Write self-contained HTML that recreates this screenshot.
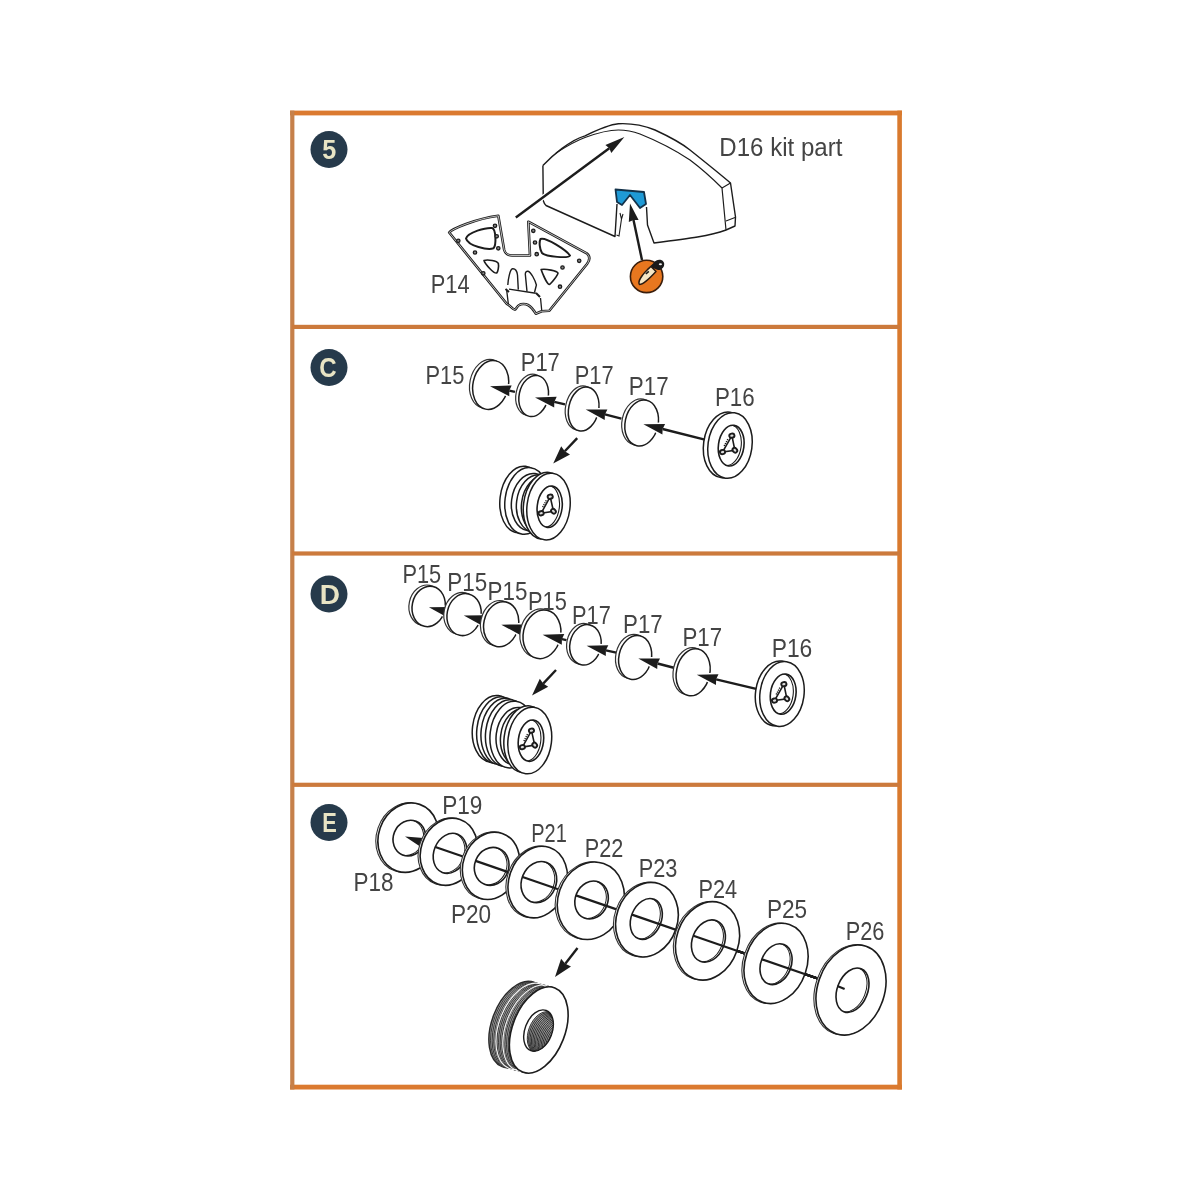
<!DOCTYPE html><html><head><meta charset="utf-8"><style>html,body{margin:0;padding:0;background:#fff;}svg{display:block;will-change:transform;font-family:"Liberation Sans",sans-serif;}</style></head><body>
<svg width="1200" height="1200" viewBox="0 0 1200 1200">
<rect width="1200" height="1200" fill="#fff"/>
<rect x="290" y="110.6" width="612" height="4.8" fill="#db7a30"/>
<rect x="290" y="1084.7" width="612" height="4.8" fill="#db7a30"/>
<rect x="897.3" y="110.6" width="4.6" height="978.9" fill="#d97a2e"/>
<rect x="290.2" y="110.6" width="4.2" height="978.9" fill="#c6804a"/>
<rect x="292" y="324.79999999999995" width="608" height="4.2" fill="#cc7a3c"/>
<rect x="292" y="551.4" width="608" height="4.2" fill="#cc7a3c"/>
<rect x="292" y="782.6999999999999" width="608" height="4.2" fill="#cc7a3c"/>
<circle cx="329" cy="149.5" r="18.5" fill="#263a4b"/>
<text x="0" y="0" font-size="28" font-weight="bold" fill="#e8e4c4" text-anchor="middle" transform="translate(329.3 159.2) scale(0.9 1)">5</text>
<circle cx="329" cy="367.5" r="18.5" fill="#263a4b"/>
<text x="0" y="0" font-size="28" font-weight="bold" fill="#e8e4c4" text-anchor="middle" transform="translate(328 377.2) scale(0.86 1)">C</text>
<circle cx="329" cy="594" r="18.5" fill="#263a4b"/>
<text x="0" y="0" font-size="28" font-weight="bold" fill="#e8e4c4" text-anchor="middle" transform="translate(329.8 603.7) scale(1.0 1)">D</text>
<circle cx="329" cy="822.5" r="18.5" fill="#263a4b"/>
<text x="0" y="0" font-size="28" font-weight="bold" fill="#e8e4c4" text-anchor="middle" transform="translate(329.5 832.2) scale(0.78 1)">E</text>
<path d="M542.9,165.4 C552,156 570,140 585,135.8 C597,130 610,124.5 618.3,123.75 C632,123 645,126 655,130 C668,136 680,142 690,150 C705,162 720,174 730.5,183 L735.5,217 L735,226 L726,230 C710,236 690,238.5 654,243 L647.5,225 L646.5,207" fill="none" stroke="#1c1c1c" stroke-width="1.4" stroke-linejoin="round"/>
<path d="M556,153 C570,144 578,140 585,137.5 C600,132 610,130 618.3,130 C625,130 632,131 640,134 C660,142 675,150 690,160 C702,169 712,178 722,188 L726,230" fill="none" stroke="#1c1c1c" stroke-width="1.2"/>
<path d="M722,188 L730.5,183 M726,221 L735,217.5" fill="none" stroke="#1c1c1c" stroke-width="1.1"/>
<path d="M542.9,165.4 L543.3,200.8 C544,203 544.5,204.5 546,205.5 L615,236.5 L617,204" fill="none" stroke="#1c1c1c" stroke-width="1.4" stroke-linejoin="round"/>
<path d="M620,213 L621.5,219 L619,236 L616.5,235 M621.5,219 L623,214" fill="none" stroke="#1c1c1c" stroke-width="1.1"/>
<path d="M615.5,189.5 L644,192 L646,204 L640,208 L630,195 L622,205 L617,202 Z" fill="#1f9ad6" stroke="#13324a" stroke-width="1.8" stroke-linejoin="round"/>
<line x1="515.8" y1="217.5" x2="609.3" y2="148.2" stroke="#fff" stroke-width="4.9"/>
<polygon points="624.4,137.0 611.3,152.9 609.3,148.2 605.4,144.9" fill="#fff" stroke="#fff" stroke-width="3" stroke-linejoin="round"/>
<line x1="515.8" y1="217.5" x2="609.3" y2="148.2" stroke="#1c1c1c" stroke-width="2.4"/>
<polygon points="624.4,137.0 611.3,152.9 609.3,148.2 605.4,144.9" fill="#1c1c1c"/>
<line x1="642.0" y1="260.0" x2="633.5" y2="219.9" stroke="#fff" stroke-width="4.9"/>
<polygon points="630.0,203.5 638.6,220.1 633.5,219.9 628.8,222.1" fill="#fff" stroke="#fff" stroke-width="3" stroke-linejoin="round"/>
<line x1="642.0" y1="260.0" x2="633.5" y2="219.9" stroke="#1c1c1c" stroke-width="2.4"/>
<polygon points="630.0,203.5 638.6,220.1 633.5,219.9 628.8,222.1" fill="#1c1c1c"/>
<circle cx="646.6" cy="276.4" r="16.2" fill="#e8771f" stroke="#3a1e0c" stroke-width="1.6"/>
<path d="M649,270.5 L656.5,263.5" stroke="#1a1a1a" stroke-width="4.5" stroke-linecap="round"/>
<ellipse cx="658.8" cy="264.8" rx="5.6" ry="5" transform="rotate(-30 658.8 264.8)" fill="#1a1a1a"/>
<ellipse cx="660.4" cy="264.2" rx="1.6" ry="1" fill="#eee"/>
<path d="M639.5,284.5 C637.5,282 641,275 651,266.5 L656,271.5 C650,278 643,284.5 639.5,284.5 Z" fill="#f6e7c6" stroke="#2a1a10" stroke-width="1.5" stroke-linejoin="round"/>
<path d="M645.8,274 L648.8,271.3" stroke="#1a1a1a" stroke-width="1.6"/>
<text x="719.35" y="156.2" font-size="25" textLength="123" lengthAdjust="spacingAndGlyphs" fill="#444">D16 kit part</text>
<path d="M449.2,232.5 C452,229 475,219 498.3,215.8 L504.2,250 C505,253 508,255.5 512,255.5 L530,255.5 L528.3,221.7 L586.7,253.3 C590,256 590,260 587,264 L549.3,310.75 L541.7,311.3 L535.8,313.7 C533,309 531,306.7 528,305 C525,303.5 521,304 519.5,304.9 C517,306 516,309.6 514.8,309.6 C512,309 510,305 506.7,303.75 Z" fill="#fff" stroke="#1c1c1c" stroke-width="2.6" stroke-linejoin="round"/>
<path d="M449.2,232.5 C452,229 475,219 498.3,215.8 L504.2,250 C505,253 508,255.5 512,255.5 L530,255.5 L528.3,221.7 L586.7,253.3 C590,256 590,260 587,264 L549.3,310.75 L541.7,311.3 L535.8,313.7 C533,309 531,306.7 528,305 C525,303.5 521,304 519.5,304.9 C517,306 516,309.6 514.8,309.6 C512,309 510,305 506.7,303.75 Z" fill="none" stroke="#fff" stroke-width="0.7" stroke-linejoin="round"/>
<path d="M466,238.5 C468,232 486,227.5 492,228 C496,229 496.5,245 493.5,248.3 C488,250.5 468,246 466,238.5 Z" fill="none" stroke="#1c1c1c" stroke-width="2"/>
<path d="M540.5,239 C546,237 566,250 570,255.5 C569,258.5 546,257 542,253 C539.5,249 539,242 540.5,239 Z" fill="none" stroke="#1c1c1c" stroke-width="2"/>
<path d="M484,260.5 C488,259 497,261 498.3,263.3 C499,266 498,272 496.7,273 C494,274 485,264 484,260.5 Z" fill="none" stroke="#1c1c1c" stroke-width="1.6" stroke-linejoin="round"/>
<path d="M541.1,269.5 C546,268.5 557,271 558,273 C558,275 551,284 549.3,284.5 C547,284.5 542,272 541.1,269.5 Z" fill="none" stroke="#1c1c1c" stroke-width="1.6" stroke-linejoin="round"/>
<path d="M507.8,285 C508,280 510,269 512.5,268.75 C515,268.5 517,271 517.5,275 L518.3,289.6" fill="none" stroke="#1c1c1c" stroke-width="1.4"/>
<path d="M527,291.5 L525.3,274 C525.5,272 526.5,271 528,271.2 C531,272 535,280 536.4,285 L534.5,292.5" fill="none" stroke="#1c1c1c" stroke-width="1.4"/>
<path d="M509,289.2 L535.8,293.25 M506.7,290.3 L508.4,304.3 M540.5,298 L541.7,310" fill="none" stroke="#1c1c1c" stroke-width="1.3"/>
<path d="M505.5,289 L509,292 M536,293 L540,297" fill="none" stroke="#1c1c1c" stroke-width="2"/>
<circle cx="458.3" cy="240.8" r="1.7" fill="#888" stroke="#1c1c1c" stroke-width="1.3"/>
<circle cx="495" cy="225.8" r="1.7" fill="#888" stroke="#1c1c1c" stroke-width="1.3"/>
<circle cx="496.7" cy="236.3" r="1.7" fill="#888" stroke="#1c1c1c" stroke-width="1.3"/>
<circle cx="498.3" cy="248.3" r="1.7" fill="#888" stroke="#1c1c1c" stroke-width="1.3"/>
<circle cx="475" cy="252.5" r="1.7" fill="#888" stroke="#1c1c1c" stroke-width="1.3"/>
<circle cx="483.3" cy="273.3" r="1.7" fill="#888" stroke="#1c1c1c" stroke-width="1.3"/>
<circle cx="533.3" cy="230.8" r="1.7" fill="#888" stroke="#1c1c1c" stroke-width="1.3"/>
<circle cx="535" cy="242.5" r="1.7" fill="#888" stroke="#1c1c1c" stroke-width="1.3"/>
<circle cx="536.7" cy="254.2" r="1.7" fill="#888" stroke="#1c1c1c" stroke-width="1.3"/>
<circle cx="579.2" cy="260.8" r="1.7" fill="#888" stroke="#1c1c1c" stroke-width="1.3"/>
<circle cx="562.5" cy="267.5" r="1.7" fill="#888" stroke="#1c1c1c" stroke-width="1.3"/>
<circle cx="560" cy="286.7" r="1.7" fill="#888" stroke="#1c1c1c" stroke-width="1.3"/>
<text x="430.75" y="293.10" font-size="25" textLength="38.87" lengthAdjust="spacingAndGlyphs" fill="#444">P14</text>
<g transform="rotate(12 490.65 385.00)">
<ellipse cx="487.35" cy="384.50" rx="17.69" ry="24.66" fill="#fff" stroke="#333" stroke-width="1.2"/>
<ellipse cx="490.65" cy="385.00" rx="17.69" ry="24.66" fill="#fff" stroke="#1c1c1c" stroke-width="1.5"/>
</g>
<line x1="515.0" y1="391.9" x2="509.3" y2="390.6" stroke="#fff" stroke-width="4.9"/>
<polygon points="490.0,386.2 511.7,385.5 509.3,390.6 509.3,396.2" fill="#fff" stroke="#fff" stroke-width="3" stroke-linejoin="round"/>
<line x1="515.0" y1="391.9" x2="509.3" y2="390.6" stroke="#1c1c1c" stroke-width="2.4"/>
<polygon points="490.0,386.2 511.7,385.5 509.3,390.6 509.3,396.2" fill="#1c1c1c"/>
<g transform="rotate(12 533.65 396.00)">
<ellipse cx="530.35" cy="395.50" rx="14.52" ry="20.83" fill="#fff" stroke="#333" stroke-width="1.2"/>
<ellipse cx="533.65" cy="396.00" rx="14.52" ry="20.83" fill="#fff" stroke="#1c1c1c" stroke-width="1.5"/>
</g>
<line x1="565.0" y1="404.4" x2="554.3" y2="401.9" stroke="#fff" stroke-width="4.9"/>
<polygon points="535.0,397.5 556.7,396.8 554.3,401.9 554.2,407.6" fill="#fff" stroke="#fff" stroke-width="3" stroke-linejoin="round"/>
<line x1="565.0" y1="404.4" x2="554.3" y2="401.9" stroke="#1c1c1c" stroke-width="2.4"/>
<polygon points="535.0,397.5 556.7,396.8 554.3,401.9 554.2,407.6" fill="#1c1c1c"/>
<g transform="rotate(12 583.65 409.00)">
<ellipse cx="580.35" cy="408.50" rx="14.96" ry="22.27" fill="#fff" stroke="#333" stroke-width="1.2"/>
<ellipse cx="583.65" cy="409.00" rx="14.96" ry="22.27" fill="#fff" stroke="#1c1c1c" stroke-width="1.5"/>
</g>
<line x1="621.4" y1="418.7" x2="604.9" y2="414.4" stroke="#fff" stroke-width="4.9"/>
<polygon points="585.7,409.5 607.4,409.4 604.9,414.4 604.7,420.1" fill="#fff" stroke="#fff" stroke-width="3" stroke-linejoin="round"/>
<line x1="621.4" y1="418.7" x2="604.9" y2="414.4" stroke="#1c1c1c" stroke-width="2.4"/>
<polygon points="585.7,409.5 607.4,409.4 604.9,414.4 604.7,420.1" fill="#1c1c1c"/>
<g transform="rotate(12 641.65 423.00)">
<ellipse cx="638.35" cy="422.50" rx="16.50" ry="23.25" fill="#fff" stroke="#333" stroke-width="1.2"/>
<ellipse cx="641.65" cy="423.00" rx="16.50" ry="23.25" fill="#fff" stroke="#1c1c1c" stroke-width="1.5"/>
</g>
<line x1="705.8" y1="439.8" x2="662.6" y2="429.0" stroke="#fff" stroke-width="4.9"/>
<polygon points="643.4,424.2 665.1,423.9 662.6,429.0 662.4,434.6" fill="#fff" stroke="#fff" stroke-width="3" stroke-linejoin="round"/>
<line x1="705.8" y1="439.8" x2="662.6" y2="429.0" stroke="#1c1c1c" stroke-width="2.4"/>
<polygon points="643.4,424.2 665.1,423.9 662.6,429.0 662.4,434.6" fill="#1c1c1c"/>
<g transform="rotate(8 730 445.5)">
<ellipse cx="725.5" cy="445.5" rx="22" ry="33" fill="#fff" stroke="#1c1c1c" stroke-width="1.5"/>
<ellipse cx="730" cy="445.5" rx="22" ry="33" fill="#fff" stroke="#1c1c1c" stroke-width="1.5"/>
<clipPath id="hc1"><ellipse cx="731.2" cy="445.5" rx="12.76" ry="20.46"/></clipPath>
<ellipse cx="728.4000000000001" cy="445.5" rx="12.76" ry="20.46" fill="none" stroke="#1c1c1c" stroke-width="1.1" clip-path="url(#hc1)"/>
<ellipse cx="731.2" cy="445.5" rx="12.76" ry="20.46" fill="none" stroke="#1c1c1c" stroke-width="1.6"/>
<path d="M730.5,435.5 L735.5,449.5 L723.5,453.0 Z" fill="none" stroke="#1c1c1c" stroke-width="1.6"/>
<ellipse cx="730.5" cy="435.5" rx="2.6" ry="2.1" transform="rotate(-20 730.5 435.5)" fill="#ddd" stroke="#1c1c1c" stroke-width="1.9"/>
<ellipse cx="735.5" cy="449.5" rx="2.6" ry="2.1" transform="rotate(40 735.5 449.5)" fill="#ddd" stroke="#1c1c1c" stroke-width="1.9"/>
<ellipse cx="723.5" cy="453.0" rx="2.6" ry="2.1" transform="rotate(160 723.5 453.0)" fill="#ddd" stroke="#1c1c1c" stroke-width="1.9"/>
<path d="M727,439.5 L724,447.5" stroke="#1c1c1c" stroke-width="1.4" stroke-dasharray="1.2,1"/>
</g>
<text x="425.55" y="383.60" font-size="25" textLength="38.87" lengthAdjust="spacingAndGlyphs" fill="#444">P15</text>
<text x="520.74" y="370.60" font-size="25" textLength="39.08" lengthAdjust="spacingAndGlyphs" fill="#444">P17</text>
<text x="574.75" y="384.40" font-size="25" textLength="38.87" lengthAdjust="spacingAndGlyphs" fill="#444">P17</text>
<text x="628.81" y="395.40" font-size="25" textLength="39.82" lengthAdjust="spacingAndGlyphs" fill="#444">P17</text>
<text x="714.96" y="405.60" font-size="25" textLength="39.77" lengthAdjust="spacingAndGlyphs" fill="#444">P16</text>
<line x1="577.2" y1="438.1" x2="564.8" y2="451.3" stroke="#fff" stroke-width="4.9"/>
<polygon points="553.2,463.5 561.2,446.3 564.8,451.3 570.0,454.5" fill="#fff" stroke="#fff" stroke-width="3" stroke-linejoin="round"/>
<line x1="577.2" y1="438.1" x2="564.8" y2="451.3" stroke="#1c1c1c" stroke-width="2.4"/>
<polygon points="553.2,463.5 561.2,446.3 564.8,451.3 570.0,454.5" fill="#1c1c1c"/>
<g transform="rotate(7 521.5 499.6)"><ellipse cx="521.5" cy="499.6" rx="21.50" ry="33.50" fill="#fff" stroke="#1c1c1c" stroke-width="1.5"/></g>
<g transform="rotate(7 526.5 500.9)"><ellipse cx="526.5" cy="500.9" rx="21.50" ry="33.50" fill="#fff" stroke="#1c1c1c" stroke-width="1.5"/></g>
<g transform="rotate(7 531.5 502.2)"><ellipse cx="531.5" cy="502.2" rx="19.99" ry="28.81" fill="#fff" stroke="#1c1c1c" stroke-width="1.5"/></g>
<g transform="rotate(7 536.5 503.5)"><ellipse cx="536.5" cy="503.5" rx="19.99" ry="28.81" fill="#fff" stroke="#1c1c1c" stroke-width="1.5"/></g>
<g transform="rotate(7 541.5 504.8)"><ellipse cx="541.5" cy="504.8" rx="19.99" ry="28.81" fill="#fff" stroke="#1c1c1c" stroke-width="1.5"/></g>
<g transform="rotate(7 545.0 505.7)"><ellipse cx="545.0" cy="505.7" rx="21.50" ry="33.50" fill="#fff" stroke="#1c1c1c" stroke-width="1.5"/></g>
<g transform="rotate(7 548.5 506.6)">
<ellipse cx="548.5" cy="506.6" rx="21.5" ry="33.5" fill="#fff" stroke="#1c1c1c" stroke-width="1.5"/>
<clipPath id="hc2"><ellipse cx="549.7" cy="506.6" rx="12.469999999999999" ry="20.77"/></clipPath>
<ellipse cx="546.9000000000001" cy="506.6" rx="12.469999999999999" ry="20.77" fill="none" stroke="#1c1c1c" stroke-width="1.1" clip-path="url(#hc2)"/>
<ellipse cx="549.7" cy="506.6" rx="12.469999999999999" ry="20.77" fill="none" stroke="#1c1c1c" stroke-width="1.6"/>
<path d="M549.0,496.6 L554.0,510.6 L542.0,514.1 Z" fill="none" stroke="#1c1c1c" stroke-width="1.6"/>
<ellipse cx="549.0" cy="496.6" rx="2.6" ry="2.1" transform="rotate(-20 549.0 496.6)" fill="#ddd" stroke="#1c1c1c" stroke-width="1.9"/>
<ellipse cx="554.0" cy="510.6" rx="2.6" ry="2.1" transform="rotate(40 554.0 510.6)" fill="#ddd" stroke="#1c1c1c" stroke-width="1.9"/>
<ellipse cx="542.0" cy="514.1" rx="2.6" ry="2.1" transform="rotate(160 542.0 514.1)" fill="#ddd" stroke="#1c1c1c" stroke-width="1.9"/>
<path d="M545.5,500.6 L542.5,508.6" stroke="#1c1c1c" stroke-width="1.4" stroke-dasharray="1.2,1"/>
</g>
<g transform="rotate(12 428.65 606.40)">
<ellipse cx="425.35" cy="605.90" rx="16.46" ry="20.35" fill="#fff" stroke="#333" stroke-width="1.2"/>
<ellipse cx="428.65" cy="606.40" rx="16.46" ry="20.35" fill="#fff" stroke="#1c1c1c" stroke-width="1.5"/>
</g>
<polygon points="428.9,607.2 450.6,607.0 448.1,612.0 447.9,617.7" fill="#fff" stroke="#fff" stroke-width="3" stroke-linejoin="round"/>
<polygon points="428.9,607.2 450.6,607.0 448.1,612.0 447.9,617.7" fill="#1c1c1c"/>
<g transform="rotate(12 464.05 614.60)">
<ellipse cx="460.75" cy="614.10" rx="16.95" ry="21.16" fill="#fff" stroke="#333" stroke-width="1.2"/>
<ellipse cx="464.05" cy="614.60" rx="16.95" ry="21.16" fill="#fff" stroke="#1c1c1c" stroke-width="1.5"/>
</g>
<polygon points="463.8,615.5 485.5,615.2 483.0,620.3 482.8,625.9" fill="#fff" stroke="#fff" stroke-width="3" stroke-linejoin="round"/>
<polygon points="463.8,615.5 485.5,615.2 483.0,620.3 482.8,625.9" fill="#1c1c1c"/>
<g transform="rotate(12 501.15 624.20)">
<ellipse cx="497.85" cy="623.70" rx="17.33" ry="22.71" fill="#fff" stroke="#333" stroke-width="1.2"/>
<ellipse cx="501.15" cy="624.20" rx="17.33" ry="22.71" fill="#fff" stroke="#1c1c1c" stroke-width="1.5"/>
</g>
<polygon points="501.3,624.7 523.0,624.4 520.5,629.5 520.3,635.1" fill="#fff" stroke="#fff" stroke-width="3" stroke-linejoin="round"/>
<polygon points="501.3,624.7 523.0,624.4 520.5,629.5 520.3,635.1" fill="#1c1c1c"/>
<g transform="rotate(12 541.95 634.30)">
<ellipse cx="538.65" cy="633.80" rx="18.66" ry="24.52" fill="#fff" stroke="#333" stroke-width="1.2"/>
<ellipse cx="541.95" cy="634.30" rx="18.66" ry="24.52" fill="#fff" stroke="#1c1c1c" stroke-width="1.5"/>
</g>
<line x1="566.4" y1="640.2" x2="561.9" y2="639.2" stroke="#fff" stroke-width="4.9"/>
<polygon points="542.6,634.8 564.3,634.1 561.9,639.2 561.8,644.8" fill="#fff" stroke="#fff" stroke-width="3" stroke-linejoin="round"/>
<line x1="566.4" y1="640.2" x2="561.9" y2="639.2" stroke="#1c1c1c" stroke-width="2.4"/>
<polygon points="542.6,634.8 564.3,634.1 561.9,639.2 561.8,644.8" fill="#1c1c1c"/>
<g transform="rotate(12 585.45 644.85)">
<ellipse cx="582.15" cy="644.35" rx="15.51" ry="20.39" fill="#fff" stroke="#333" stroke-width="1.2"/>
<ellipse cx="585.45" cy="644.85" rx="15.51" ry="20.39" fill="#fff" stroke="#1c1c1c" stroke-width="1.5"/>
</g>
<line x1="616.3" y1="652.7" x2="605.9" y2="650.3" stroke="#fff" stroke-width="4.9"/>
<polygon points="586.6,645.8 608.3,645.2 605.9,650.3 605.8,655.9" fill="#fff" stroke="#fff" stroke-width="3" stroke-linejoin="round"/>
<line x1="616.3" y1="652.7" x2="605.9" y2="650.3" stroke="#1c1c1c" stroke-width="2.4"/>
<polygon points="586.6,645.8 608.3,645.2 605.9,650.3 605.8,655.9" fill="#1c1c1c"/>
<g transform="rotate(12 635.15 657.50)">
<ellipse cx="631.85" cy="657.00" rx="16.25" ry="22.22" fill="#fff" stroke="#333" stroke-width="1.2"/>
<ellipse cx="635.15" cy="657.50" rx="16.25" ry="22.22" fill="#fff" stroke="#1c1c1c" stroke-width="1.5"/>
</g>
<line x1="674.8" y1="668.0" x2="657.5" y2="663.5" stroke="#fff" stroke-width="4.9"/>
<polygon points="638.3,658.5 660.0,658.5 657.5,663.5 657.2,669.1" fill="#fff" stroke="#fff" stroke-width="3" stroke-linejoin="round"/>
<line x1="674.8" y1="668.0" x2="657.5" y2="663.5" stroke="#1c1c1c" stroke-width="2.4"/>
<polygon points="638.3,658.5 660.0,658.5 657.5,663.5 657.2,669.1" fill="#1c1c1c"/>
<g transform="rotate(12 693.15 672.30)">
<ellipse cx="689.85" cy="671.80" rx="16.68" ry="23.76" fill="#fff" stroke="#333" stroke-width="1.2"/>
<ellipse cx="693.15" cy="672.30" rx="16.68" ry="23.76" fill="#fff" stroke="#1c1c1c" stroke-width="1.5"/>
</g>
<line x1="757.2" y1="689.1" x2="716.1" y2="679.3" stroke="#fff" stroke-width="4.9"/>
<polygon points="696.8,674.8 718.5,674.3 716.1,679.3 716.0,685.0" fill="#fff" stroke="#fff" stroke-width="3" stroke-linejoin="round"/>
<line x1="757.2" y1="689.1" x2="716.1" y2="679.3" stroke="#1c1c1c" stroke-width="2.4"/>
<polygon points="696.8,674.8 718.5,674.3 716.1,679.3 716.0,685.0" fill="#1c1c1c"/>
<g transform="rotate(8 782 694)">
<ellipse cx="777.5" cy="694" rx="22" ry="32.6" fill="#fff" stroke="#1c1c1c" stroke-width="1.5"/>
<ellipse cx="782" cy="694" rx="22" ry="32.6" fill="#fff" stroke="#1c1c1c" stroke-width="1.5"/>
<clipPath id="hc3"><ellipse cx="783.2" cy="694" rx="12.76" ry="20.212"/></clipPath>
<ellipse cx="780.4000000000001" cy="694" rx="12.76" ry="20.212" fill="none" stroke="#1c1c1c" stroke-width="1.1" clip-path="url(#hc3)"/>
<ellipse cx="783.2" cy="694" rx="12.76" ry="20.212" fill="none" stroke="#1c1c1c" stroke-width="1.6"/>
<path d="M782.5,684 L787.5,698 L775.5,701.5 Z" fill="none" stroke="#1c1c1c" stroke-width="1.6"/>
<ellipse cx="782.5" cy="684" rx="2.6" ry="2.1" transform="rotate(-20 782.5 684)" fill="#ddd" stroke="#1c1c1c" stroke-width="1.9"/>
<ellipse cx="787.5" cy="698" rx="2.6" ry="2.1" transform="rotate(40 787.5 698)" fill="#ddd" stroke="#1c1c1c" stroke-width="1.9"/>
<ellipse cx="775.5" cy="701.5" rx="2.6" ry="2.1" transform="rotate(160 775.5 701.5)" fill="#ddd" stroke="#1c1c1c" stroke-width="1.9"/>
<path d="M779,688 L776,696" stroke="#1c1c1c" stroke-width="1.4" stroke-dasharray="1.2,1"/>
</g>
<text x="402.46" y="583.10" font-size="25" textLength="38.76" lengthAdjust="spacingAndGlyphs" fill="#444">P15</text>
<text x="447.31" y="591.35" font-size="25" textLength="39.82" lengthAdjust="spacingAndGlyphs" fill="#444">P15</text>
<text x="487.61" y="599.60" font-size="25" textLength="39.82" lengthAdjust="spacingAndGlyphs" fill="#444">P15</text>
<text x="528.00" y="609.60" font-size="25" textLength="38.81" lengthAdjust="spacingAndGlyphs" fill="#444">P15</text>
<text x="572.00" y="624.35" font-size="25" textLength="38.81" lengthAdjust="spacingAndGlyphs" fill="#444">P17</text>
<text x="623.12" y="633.20" font-size="25" textLength="39.61" lengthAdjust="spacingAndGlyphs" fill="#444">P17</text>
<text x="682.52" y="645.60" font-size="25" textLength="39.61" lengthAdjust="spacingAndGlyphs" fill="#444">P17</text>
<text x="771.68" y="657.10" font-size="25" textLength="40.56" lengthAdjust="spacingAndGlyphs" fill="#444">P16</text>
<line x1="556.0" y1="670.0" x2="543.2" y2="683.6" stroke="#fff" stroke-width="4.9"/>
<polygon points="532.0,695.5 539.8,678.8 543.2,683.6 548.2,686.7" fill="#fff" stroke="#fff" stroke-width="3" stroke-linejoin="round"/>
<line x1="556.0" y1="670.0" x2="543.2" y2="683.6" stroke="#1c1c1c" stroke-width="2.4"/>
<polygon points="532.0,695.5 539.8,678.8 543.2,683.6 548.2,686.7" fill="#1c1c1c"/>
<g transform="rotate(7 494.2 728.8)"><ellipse cx="494.2" cy="728.8" rx="21.75" ry="33.50" fill="#fff" stroke="#1c1c1c" stroke-width="1.5"/></g>
<g transform="rotate(7 498.6 730.2)"><ellipse cx="498.6" cy="730.2" rx="21.75" ry="33.50" fill="#fff" stroke="#1c1c1c" stroke-width="1.5"/></g>
<g transform="rotate(7 502.9 731.6)"><ellipse cx="502.9" cy="731.6" rx="21.75" ry="33.50" fill="#fff" stroke="#1c1c1c" stroke-width="1.5"/></g>
<g transform="rotate(7 507.4 733.1)"><ellipse cx="507.4" cy="733.1" rx="21.75" ry="33.50" fill="#fff" stroke="#1c1c1c" stroke-width="1.5"/></g>
<g transform="rotate(7 511.9 734.6)"><ellipse cx="511.9" cy="734.6" rx="21.75" ry="33.50" fill="#fff" stroke="#1c1c1c" stroke-width="1.5"/></g>
<g transform="rotate(7 516.4 736.1)"><ellipse cx="516.4" cy="736.1" rx="20.23" ry="28.81" fill="#fff" stroke="#1c1c1c" stroke-width="1.5"/></g>
<g transform="rotate(7 520.8 737.5)"><ellipse cx="520.8" cy="737.5" rx="20.23" ry="28.81" fill="#fff" stroke="#1c1c1c" stroke-width="1.5"/></g>
<g transform="rotate(7 525.8 739.2)"><ellipse cx="525.8" cy="739.2" rx="21.75" ry="33.50" fill="#fff" stroke="#1c1c1c" stroke-width="1.5"/></g>
<g transform="rotate(7 529.75 740.5)">
<ellipse cx="529.75" cy="740.5" rx="21.75" ry="33.5" fill="#fff" stroke="#1c1c1c" stroke-width="1.5"/>
<clipPath id="hc4"><ellipse cx="530.95" cy="740.5" rx="12.614999999999998" ry="20.77"/></clipPath>
<ellipse cx="528.1500000000001" cy="740.5" rx="12.614999999999998" ry="20.77" fill="none" stroke="#1c1c1c" stroke-width="1.1" clip-path="url(#hc4)"/>
<ellipse cx="530.95" cy="740.5" rx="12.614999999999998" ry="20.77" fill="none" stroke="#1c1c1c" stroke-width="1.6"/>
<path d="M530.25,730.5 L535.25,744.5 L523.25,748.0 Z" fill="none" stroke="#1c1c1c" stroke-width="1.6"/>
<ellipse cx="530.25" cy="730.5" rx="2.6" ry="2.1" transform="rotate(-20 530.25 730.5)" fill="#ddd" stroke="#1c1c1c" stroke-width="1.9"/>
<ellipse cx="535.25" cy="744.5" rx="2.6" ry="2.1" transform="rotate(40 535.25 744.5)" fill="#ddd" stroke="#1c1c1c" stroke-width="1.9"/>
<ellipse cx="523.25" cy="748.0" rx="2.6" ry="2.1" transform="rotate(160 523.25 748.0)" fill="#ddd" stroke="#1c1c1c" stroke-width="1.9"/>
<path d="M526.75,734.5 L523.75,742.5" stroke="#1c1c1c" stroke-width="1.4" stroke-dasharray="1.2,1"/>
</g>
<g transform="rotate(19 408.25 837.65)">
<ellipse cx="406.25" cy="838.25" rx="29.72" ry="35.19" fill="#fff" stroke="#333" stroke-width="1.1"/>
<ellipse cx="408.25" cy="837.65" rx="29.72" ry="35.19" fill="#fff" stroke="#1c1c1c" stroke-width="1.6"/>
</g>
<g transform="rotate(22 409.3 838.15)">
<clipPath id="wc1"><ellipse cx="409.3" cy="838.15" rx="15.98" ry="18.14"/></clipPath>
<ellipse cx="407.3" cy="838.4499999999999" rx="15.98" ry="18.14" fill="none" stroke="#1c1c1c" stroke-width="1" clip-path="url(#wc1)"/>
<ellipse cx="409.3" cy="838.15" rx="15.98" ry="18.14" fill="none" stroke="#1c1c1c" stroke-width="1.6"/>
</g>
<line x1="420" y1="841.7590854101137" x2="818.3" y2="978.75" stroke="#1c1c1c" stroke-width="2.2"/>
<polygon points="405.0,836.6 426.6,838.2 423.7,843.0 423.1,848.6" fill="#1c1c1c"/>
<g transform="rotate(19 448.9 851.75)">
<ellipse cx="446.90" cy="852.35" rx="27.98" ry="34.15" fill="#fff" stroke="#333" stroke-width="1.1"/>
<ellipse cx="448.9" cy="851.75" rx="27.98" ry="34.15" fill="#fff" stroke="#1c1c1c" stroke-width="1.6"/>
</g>
<g transform="rotate(22 450 853.35)">
<clipPath id="wc2"><ellipse cx="450" cy="853.35" rx="16.09" ry="20.62"/></clipPath>
<ellipse cx="448" cy="853.65" rx="16.09" ry="20.62" fill="none" stroke="#1c1c1c" stroke-width="1" clip-path="url(#wc2)"/>
<ellipse cx="450" cy="853.35" rx="16.09" ry="20.62" fill="none" stroke="#1c1c1c" stroke-width="1.6"/>
</g>
<line x1="435.3" y1="847.0" x2="818.3" y2="978.75" stroke="#1c1c1c" stroke-width="2.2"/>
<g transform="rotate(19 491.1 865.8)">
<ellipse cx="489.10" cy="866.40" rx="27.98" ry="34.21" fill="#fff" stroke="#333" stroke-width="1.1"/>
<ellipse cx="491.1" cy="865.8" rx="27.98" ry="34.21" fill="#fff" stroke="#1c1c1c" stroke-width="1.6"/>
</g>
<g transform="rotate(22 491.65 866.35)">
<clipPath id="wc3"><ellipse cx="491.65" cy="866.35" rx="17.02" ry="19.25"/></clipPath>
<ellipse cx="489.65" cy="866.65" rx="17.02" ry="19.25" fill="none" stroke="#1c1c1c" stroke-width="1" clip-path="url(#wc3)"/>
<ellipse cx="491.65" cy="866.35" rx="17.02" ry="19.25" fill="none" stroke="#1c1c1c" stroke-width="1.6"/>
</g>
<line x1="475.6" y1="860.9" x2="818.3" y2="978.75" stroke="#1c1c1c" stroke-width="2.2"/>
<g transform="rotate(19 537.75 882.05)">
<ellipse cx="535.75" cy="882.65" rx="28.85" ry="36.48" fill="#fff" stroke="#333" stroke-width="1.1"/>
<ellipse cx="537.75" cy="882.05" rx="28.85" ry="36.48" fill="#fff" stroke="#1c1c1c" stroke-width="1.6"/>
</g>
<g transform="rotate(22 538.85 882.1)">
<clipPath id="wc4"><ellipse cx="538.85" cy="882.1" rx="17.26" ry="21.09"/></clipPath>
<ellipse cx="536.85" cy="882.4" rx="17.26" ry="21.09" fill="none" stroke="#1c1c1c" stroke-width="1" clip-path="url(#wc4)"/>
<ellipse cx="538.85" cy="882.1" rx="17.26" ry="21.09" fill="none" stroke="#1c1c1c" stroke-width="1.6"/>
</g>
<line x1="522.6" y1="877.0" x2="818.3" y2="978.75" stroke="#1c1c1c" stroke-width="2.2"/>
<g transform="rotate(19 590.85 900.75)">
<ellipse cx="588.85" cy="901.35" rx="32.80" ry="39.29" fill="#fff" stroke="#333" stroke-width="1.1"/>
<ellipse cx="590.85" cy="900.75" rx="32.80" ry="39.29" fill="#fff" stroke="#1c1c1c" stroke-width="1.6"/>
</g>
<g transform="rotate(22 591.55 900)">
<clipPath id="wc5"><ellipse cx="591.55" cy="900" rx="16.27" ry="19.41"/></clipPath>
<ellipse cx="589.55" cy="900.3" rx="16.27" ry="19.41" fill="none" stroke="#1c1c1c" stroke-width="1" clip-path="url(#wc5)"/>
<ellipse cx="591.55" cy="900" rx="16.27" ry="19.41" fill="none" stroke="#1c1c1c" stroke-width="1.6"/>
</g>
<line x1="575.9" y1="895.4" x2="818.3" y2="978.75" stroke="#1c1c1c" stroke-width="2.2"/>
<g transform="rotate(19 646.95 919.7)">
<ellipse cx="644.95" cy="920.30" rx="30.48" ry="37.92" fill="#fff" stroke="#333" stroke-width="1.1"/>
<ellipse cx="646.95" cy="919.7" rx="30.48" ry="37.92" fill="#fff" stroke="#1c1c1c" stroke-width="1.6"/>
</g>
<g transform="rotate(22 646.25 918.95)">
<clipPath id="wc6"><ellipse cx="646.25" cy="918.95" rx="15.04" ry="21.20"/></clipPath>
<ellipse cx="644.25" cy="919.25" rx="15.04" ry="21.20" fill="none" stroke="#1c1c1c" stroke-width="1" clip-path="url(#wc6)"/>
<ellipse cx="646.25" cy="918.95" rx="15.04" ry="21.20" fill="none" stroke="#1c1c1c" stroke-width="1.6"/>
</g>
<line x1="631.9" y1="914.6" x2="818.3" y2="978.75" stroke="#1c1c1c" stroke-width="2.2"/>
<g transform="rotate(19 707.55 940.85)">
<ellipse cx="705.55" cy="941.45" rx="30.97" ry="40.01" fill="#fff" stroke="#333" stroke-width="1.1"/>
<ellipse cx="707.55" cy="940.85" rx="30.97" ry="40.01" fill="#fff" stroke="#1c1c1c" stroke-width="1.6"/>
</g>
<g transform="rotate(22 708.4 941.05)">
<clipPath id="wc7"><ellipse cx="708.4" cy="941.05" rx="16.07" ry="21.87"/></clipPath>
<ellipse cx="706.4" cy="941.3499999999999" rx="16.07" ry="21.87" fill="none" stroke="#1c1c1c" stroke-width="1" clip-path="url(#wc7)"/>
<ellipse cx="708.4" cy="941.05" rx="16.07" ry="21.87" fill="none" stroke="#1c1c1c" stroke-width="1.6"/>
</g>
<line x1="693.4" y1="935.8" x2="818.3" y2="978.75" stroke="#1c1c1c" stroke-width="2.2"/>
<g transform="rotate(19 776.05 963.4)">
<ellipse cx="774.05" cy="964.00" rx="30.81" ry="41.06" fill="#fff" stroke="#333" stroke-width="1.1"/>
<ellipse cx="776.05" cy="963.4" rx="30.81" ry="41.06" fill="#fff" stroke="#1c1c1c" stroke-width="1.6"/>
</g>
<g transform="rotate(22 776.05 964.2)">
<clipPath id="wc8"><ellipse cx="776.05" cy="964.2" rx="15.06" ry="21.14"/></clipPath>
<ellipse cx="774.05" cy="964.5" rx="15.06" ry="21.14" fill="none" stroke="#1c1c1c" stroke-width="1" clip-path="url(#wc8)"/>
<ellipse cx="776.05" cy="964.2" rx="15.06" ry="21.14" fill="none" stroke="#1c1c1c" stroke-width="1.6"/>
</g>
<line x1="762.0" y1="959.4" x2="818.3" y2="978.75" stroke="#1c1c1c" stroke-width="2.2"/>
<g transform="rotate(19 851 990)">
<ellipse cx="849.00" cy="990.60" rx="33.43" ry="46.18" fill="#fff" stroke="#333" stroke-width="1.1"/>
<ellipse cx="851" cy="990" rx="33.43" ry="46.18" fill="#fff" stroke="#1c1c1c" stroke-width="1.6"/>
</g>
<g transform="rotate(22 852.5 990.2)">
<clipPath id="wc9"><ellipse cx="852.5" cy="990.2" rx="15.14" ry="23.15"/></clipPath>
<ellipse cx="850.5" cy="990.5" rx="15.14" ry="23.15" fill="none" stroke="#1c1c1c" stroke-width="1" clip-path="url(#wc9)"/>
<ellipse cx="852.5" cy="990.2" rx="15.14" ry="23.15" fill="none" stroke="#1c1c1c" stroke-width="1.6"/>
</g>
<line x1="837.3" y1="986" x2="844.6" y2="989" stroke="#1c1c1c" stroke-width="2"/>
<text x="353.40" y="891.35" font-size="25" textLength="40.03" lengthAdjust="spacingAndGlyphs" fill="#444">P18</text>
<text x="442.19" y="814.40" font-size="25" textLength="40.24" lengthAdjust="spacingAndGlyphs" fill="#444">P19</text>
<text x="450.90" y="922.80" font-size="25" textLength="40.14" lengthAdjust="spacingAndGlyphs" fill="#444">P20</text>
<text x="531.25" y="841.60" font-size="25" textLength="35.53" lengthAdjust="spacingAndGlyphs" fill="#444">P21</text>
<text x="584.77" y="856.85" font-size="25" textLength="38.55" lengthAdjust="spacingAndGlyphs" fill="#444">P22</text>
<text x="638.66" y="877.30" font-size="25" textLength="38.66" lengthAdjust="spacingAndGlyphs" fill="#444">P23</text>
<text x="698.46" y="897.70" font-size="25" textLength="38.66" lengthAdjust="spacingAndGlyphs" fill="#444">P24</text>
<text x="766.94" y="918.10" font-size="25" textLength="40.19" lengthAdjust="spacingAndGlyphs" fill="#444">P25</text>
<text x="845.76" y="940.00" font-size="25" textLength="38.66" lengthAdjust="spacingAndGlyphs" fill="#444">P26</text>
<line x1="577.5" y1="948.1" x2="565.3" y2="963.7" stroke="#fff" stroke-width="4.9"/>
<polygon points="555.0,976.9 561.1,958.8 565.3,963.7 571.0,966.6" fill="#fff" stroke="#fff" stroke-width="3" stroke-linejoin="round"/>
<line x1="577.5" y1="948.1" x2="565.3" y2="963.7" stroke="#1c1c1c" stroke-width="2.4"/>
<polygon points="555.0,976.9 561.1,958.8 565.3,963.7 571.0,966.6" fill="#1c1c1c"/>
<g transform="rotate(21 518.25 1024.46)"><ellipse cx="518.25" cy="1024.46" rx="26.25" ry="45.05" fill="#a8a8a8" stroke="#2a2a2a" stroke-width="1.5"/></g>
<g transform="rotate(21 519.85 1024.90)"><ellipse cx="519.85" cy="1024.90" rx="26.25" ry="45.05" fill="#a8a8a8" stroke="#2a2a2a" stroke-width="0.8"/></g>
<g transform="rotate(21 521.45 1025.33)"><ellipse cx="521.45" cy="1025.33" rx="26.25" ry="45.05" fill="#a8a8a8" stroke="#2a2a2a" stroke-width="0.8"/></g>
<g transform="rotate(21 523.05 1025.76)"><ellipse cx="523.05" cy="1025.76" rx="26.25" ry="45.05" fill="#a8a8a8" stroke="#2a2a2a" stroke-width="0.8"/></g>
<g transform="rotate(21 524.65 1026.19)"><ellipse cx="524.65" cy="1026.19" rx="26.25" ry="45.05" fill="#a8a8a8" stroke="#2a2a2a" stroke-width="0.8"/></g>
<g transform="rotate(21 526.25 1026.62)"><ellipse cx="526.25" cy="1026.62" rx="26.25" ry="45.05" fill="#a8a8a8" stroke="#2a2a2a" stroke-width="0.8"/></g>
<g transform="rotate(21 527.85 1027.06)"><ellipse cx="527.85" cy="1027.06" rx="26.25" ry="45.05" fill="#a8a8a8" stroke="#2a2a2a" stroke-width="0.8"/></g>
<g transform="rotate(21 529.45 1027.49)"><ellipse cx="529.45" cy="1027.49" rx="26.25" ry="45.05" fill="#a8a8a8" stroke="#2a2a2a" stroke-width="0.8"/></g>
<g transform="rotate(21 531.05 1027.92)"><ellipse cx="531.05" cy="1027.92" rx="26.25" ry="45.05" fill="#a8a8a8" stroke="#2a2a2a" stroke-width="0.8"/></g>
<g transform="rotate(21 532.65 1028.35)"><ellipse cx="532.65" cy="1028.35" rx="26.25" ry="45.05" fill="#a8a8a8" stroke="#2a2a2a" stroke-width="0.8"/></g>
<g transform="rotate(21 534.25 1028.79)"><ellipse cx="534.25" cy="1028.79" rx="26.25" ry="45.05" fill="#a8a8a8" stroke="#2a2a2a" stroke-width="0.8"/></g>
<g transform="rotate(21 535.85 1029.22)"><ellipse cx="535.85" cy="1029.22" rx="26.25" ry="45.05" fill="#a8a8a8" stroke="#2a2a2a" stroke-width="0.8"/></g>
<g transform="rotate(21 537.45 1029.65)"><ellipse cx="537.45" cy="1029.65" rx="26.25" ry="45.05" fill="#a8a8a8" stroke="#2a2a2a" stroke-width="0.8"/></g>
<g transform="rotate(21 525.25 1026.36)"><ellipse cx="525.25" cy="1026.36" rx="26.25" ry="45.05" fill="none" stroke="#f4f4f4" stroke-width="1.1"/></g>
<g transform="rotate(21 532.25 1028.24)"><ellipse cx="532.25" cy="1028.24" rx="26.25" ry="45.05" fill="none" stroke="#f4f4f4" stroke-width="1.1"/></g>
<g transform="rotate(21 538.75 1030)">
<ellipse cx="538.75" cy="1030" rx="26.25" ry="45.05" fill="#fff" stroke="#1c1c1c" stroke-width="1.6"/>
<clipPath id="holeclip"><ellipse cx="538.75" cy="1030.6" rx="13.6" ry="21.5"/></clipPath>
<ellipse cx="538.75" cy="1030.6" rx="13.6" ry="21.5" fill="#fff"/>
<g clip-path="url(#holeclip)">
<ellipse cx="542.75" cy="1031.0" rx="13.6" ry="21.5" fill="#a0a0a0" stroke="#262626" stroke-width="0.85"/>
<ellipse cx="544.35" cy="1031.32" rx="13.6" ry="21.5" fill="#a0a0a0" stroke="#262626" stroke-width="0.85"/>
<ellipse cx="545.95" cy="1031.64" rx="13.6" ry="21.5" fill="#a0a0a0" stroke="#262626" stroke-width="0.85"/>
<ellipse cx="547.55" cy="1031.96" rx="13.6" ry="21.5" fill="#a0a0a0" stroke="#262626" stroke-width="0.85"/>
<ellipse cx="549.15" cy="1032.28" rx="13.6" ry="21.5" fill="#a0a0a0" stroke="#262626" stroke-width="0.85"/>
<ellipse cx="550.75" cy="1032.6" rx="13.6" ry="21.5" fill="#a0a0a0" stroke="#262626" stroke-width="0.85"/>
<ellipse cx="552.35" cy="1032.92" rx="13.6" ry="21.5" fill="#a0a0a0" stroke="#262626" stroke-width="0.85"/>
<ellipse cx="553.95" cy="1033.24" rx="13.6" ry="21.5" fill="#a0a0a0" stroke="#262626" stroke-width="0.85"/>
<ellipse cx="555.55" cy="1033.56" rx="13.6" ry="21.5" fill="#a0a0a0" stroke="#262626" stroke-width="0.85"/>
<ellipse cx="557.15" cy="1033.88" rx="13.6" ry="21.5" fill="#a0a0a0" stroke="#262626" stroke-width="0.85"/>
<ellipse cx="558.75" cy="1034.2" rx="13.6" ry="21.5" fill="#a0a0a0" stroke="#262626" stroke-width="0.85"/>
<ellipse cx="560.35" cy="1034.52" rx="13.6" ry="21.5" fill="#a0a0a0" stroke="#262626" stroke-width="0.85"/>
<ellipse cx="561.95" cy="1034.84" rx="13.6" ry="21.5" fill="#a0a0a0" stroke="#262626" stroke-width="0.85"/>
<ellipse cx="563.55" cy="1035.16" rx="13.6" ry="21.5" fill="#a0a0a0" stroke="#262626" stroke-width="0.85"/>
<ellipse cx="565.15" cy="1035.48" rx="13.6" ry="21.5" fill="#a0a0a0" stroke="#262626" stroke-width="0.85"/>
<ellipse cx="566.75" cy="1035.8" rx="13.6" ry="21.5" fill="#a0a0a0" stroke="#262626" stroke-width="0.85"/>
<ellipse cx="568.35" cy="1036.12" rx="13.6" ry="21.5" fill="#a0a0a0" stroke="#262626" stroke-width="0.85"/>
</g>
<ellipse cx="538.75" cy="1030.6" rx="13.6" ry="21.5" fill="none" stroke="#1c1c1c" stroke-width="1.4"/>
</g>
</svg></body></html>
